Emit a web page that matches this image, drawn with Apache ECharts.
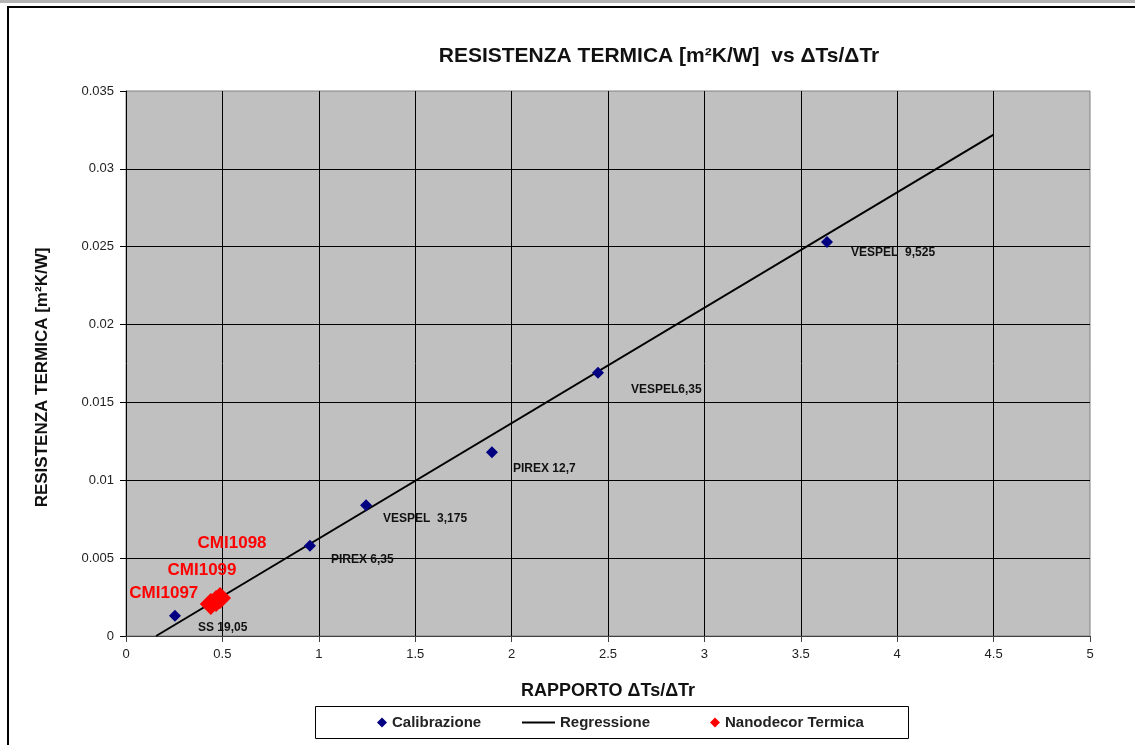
<!DOCTYPE html>
<html>
<head>
<meta charset="utf-8">
<script src="https://cdn.jsdelivr.net/npm/echarts@6/dist/echarts.min.js"></script>
<style>
  html, body { margin: 0; padding: 0; background: #fff; }
  #chart { width: 1135px; height: 745px; }
</style>
</head>
<body>
<div id="chart"></div>
<script>
// calibrazione
const calX = [0.254, 0.954, 1.245, 1.898, 2.448, 3.636];
const calY = [0.0013, 0.0058, 0.0084, 0.0118, 0.0169, 0.0253];
const calNames = ['SS 19,05', 'PIREX 6,35', 'VESPEL  3,175', 'PIREX 12,7', 'VESPEL6,35', 'VESPEL  9,525'];

// regressione (estremi della retta)
const regX = [0.156, 4.5];
const regY = [0, 0.0322];

// nanodecor
const nanoX = [0.44, 0.467, 0.488];
const nanoY = [0.00205, 0.00225, 0.00244];
const nanoNames = ['CMI1097', 'CMI1099', 'CMI1098'];

const xTicks = [0, 0.5, 1, 1.5, 2, 2.5, 3, 3.5, 4, 4.5, 5];
const yTicks = [0, 0.005, 0.01, 0.015, 0.02, 0.025, 0.03, 0.035];

const calLabelOffset = [[12, 12], [10, 14], [6, 13], [10, 16], [22, 17], [13, 11]];
const nanoLabelOffset = [[-47, -11], [-14, -31], [12, -55]];

const font = 'Liberation Sans, Arial, sans-serif';

function createSeries(){
    const calData = calX.map((x, i) => ({
        value: [x, calY[i]],
        name: calNames[i],
        label: { offset: calLabelOffset[i] }
    }));
    const nanoData = nanoX.map((x, i) => ({
        value: [x, nanoY[i]],
        name: nanoNames[i],
        label: { offset: nanoLabelOffset[i] }
    }));
    return [{
        name: 'Regressione',
        type: 'line',
        data: regX.map((x, i) => [x, regY[i]]),
        showSymbol: false,
        symbol: 'none',
        lineStyle: { color: '#000', width: 2 },
        itemStyle: { color: '#000' },
        z: 3
    }, {
        name: 'Calibrazione',
        type: 'scatter',
        symbol: 'diamond',
        symbolSize: 12,
        symbolKeepAspect: true,
        itemStyle: { color: '#000080', opacity: 1 },
        data: calData,
        label: {
            show: true,
            position: 'right',
            formatter: p => p.name,
            fontFamily: font,
            fontWeight: 'bold',
            fontSize: 12,
            color: '#111'
        },
        z: 4
    }, {
        name: 'Nanodecor Termica',
        type: 'scatter',
        symbol: 'diamond',
        symbolSize: 22,
        symbolKeepAspect: true,
        itemStyle: { color: '#ff0000', opacity: 1 },
        data: nanoData,
        label: {
            show: true,
            position: 'inside',
            formatter: p => p.name,
            fontFamily: font,
            fontWeight: 'bold',
            fontSize: 17,
            color: '#ff0000'
        },
        z: 5
    }];
}

function createLegend(){
    const base = {
        top: 715,
        padding: 0,
        itemHeight: 10,
        textStyle: { fontFamily: font, fontWeight: 'bold', fontSize: 15, color: '#222' },
        selectedMode: false
    };
    return [
        Object.assign({}, base, { left: 377, itemWidth: 10, data: [{ name: 'Calibrazione', itemStyle: { opacity: 1 } }] }),
        Object.assign({}, base, { left: 522, itemWidth: 33, itemHeight: 2, data: [{ name: 'Regressione', icon: 'rect' }] }),
        Object.assign({}, base, { left: 710, itemWidth: 10, data: [{ name: 'Nanodecor Termica', itemStyle: { opacity: 1 } }] })
    ];
}

const chart = echarts.init(document.getElementById('chart'));
chart.setOption({
    backgroundColor: '#fff',
    animation: false,
    title: {
        text: 'RESISTENZA TERMICA [m²K/W]  vs ΔTs/ΔTr',
        left: 654,
        textAlign: 'center',
        top: 41,
        textStyle: { fontFamily: font, fontWeight: 'bold', fontSize: 21, color: '#111' }
    },
    graphic: [{
        type: 'rect',
        shape: { x: 0, y: 0, width: 1135, height: 3 },
        style: { fill: '#b4b4b4' },
        silent: true
    }, {
        type: 'rect',
        shape: { x: 8, y: 7, width: 1300, height: 900 },
        style: { fill: 'none', stroke: '#000', lineWidth: 2 },
        silent: true
    }, {
        type: 'rect',
        shape: { x: 315.5, y: 706.5, width: 593, height: 32 },
        style: { fill: '#fff', stroke: '#000', lineWidth: 1 },
        silent: true,
        z: -1
    }],
    legend: createLegend(),
    grid: {
        left: 126, right: 45, top: 91, bottom: 109,
        show: true,
        backgroundColor: '#c0c0c0',
        borderColor: '#808080',
        borderWidth: 1
    },
    xAxis: {
        type: 'value',
        min: 0, max: 5, interval: 0.5,
        name: 'RAPPORTO ΔTs/ΔTr',
        nameLocation: 'middle',
        nameGap: 46,
        nameTextStyle: { fontFamily: font, fontWeight: 'bold', fontSize: 18, color: '#111' },
        axisLine: { show: true, lineStyle: { color: '#404040', width: 1 } },
        axisTick: { show: true, length: 6, lineStyle: { color: '#404040' } },
        axisLabel: {
            fontFamily: font, fontSize: 13, color: '#222', margin: 12,
            formatter: v => xTicks.includes(v) ? String(v) : ''
        },
        splitLine: { show: true, showMinLine: false, showMaxLine: false, lineStyle: { color: '#000', width: 1 } }
    },
    yAxis: {
        type: 'value',
        min: 0, max: 0.035, interval: 0.005,
        name: 'RESISTENZA TERMICA [m²K/W]',
        nameLocation: 'middle',
        nameGap: 75,
        nameTextStyle: { fontFamily: font, fontWeight: 'bold', fontSize: 17, color: '#111', padding: [0, 28, 0, 0] },
        axisLine: { show: true, lineStyle: { color: '#000', width: 1 } },
        axisTick: { show: true, length: 6, lineStyle: { color: '#000' } },
        axisLabel: {
            fontFamily: font, fontSize: 13, color: '#222', margin: 12,
            formatter: v => {
                const t = yTicks.find(k => Math.abs(k - v) < 1e-9);
                return t === undefined ? '' : String(+t.toFixed(3));
            }
        },
        splitLine: { show: true, showMinLine: false, showMaxLine: false, lineStyle: { color: '#000', width: 1 } }
    },
    series: createSeries()
});
</script>
</body>
</html>
